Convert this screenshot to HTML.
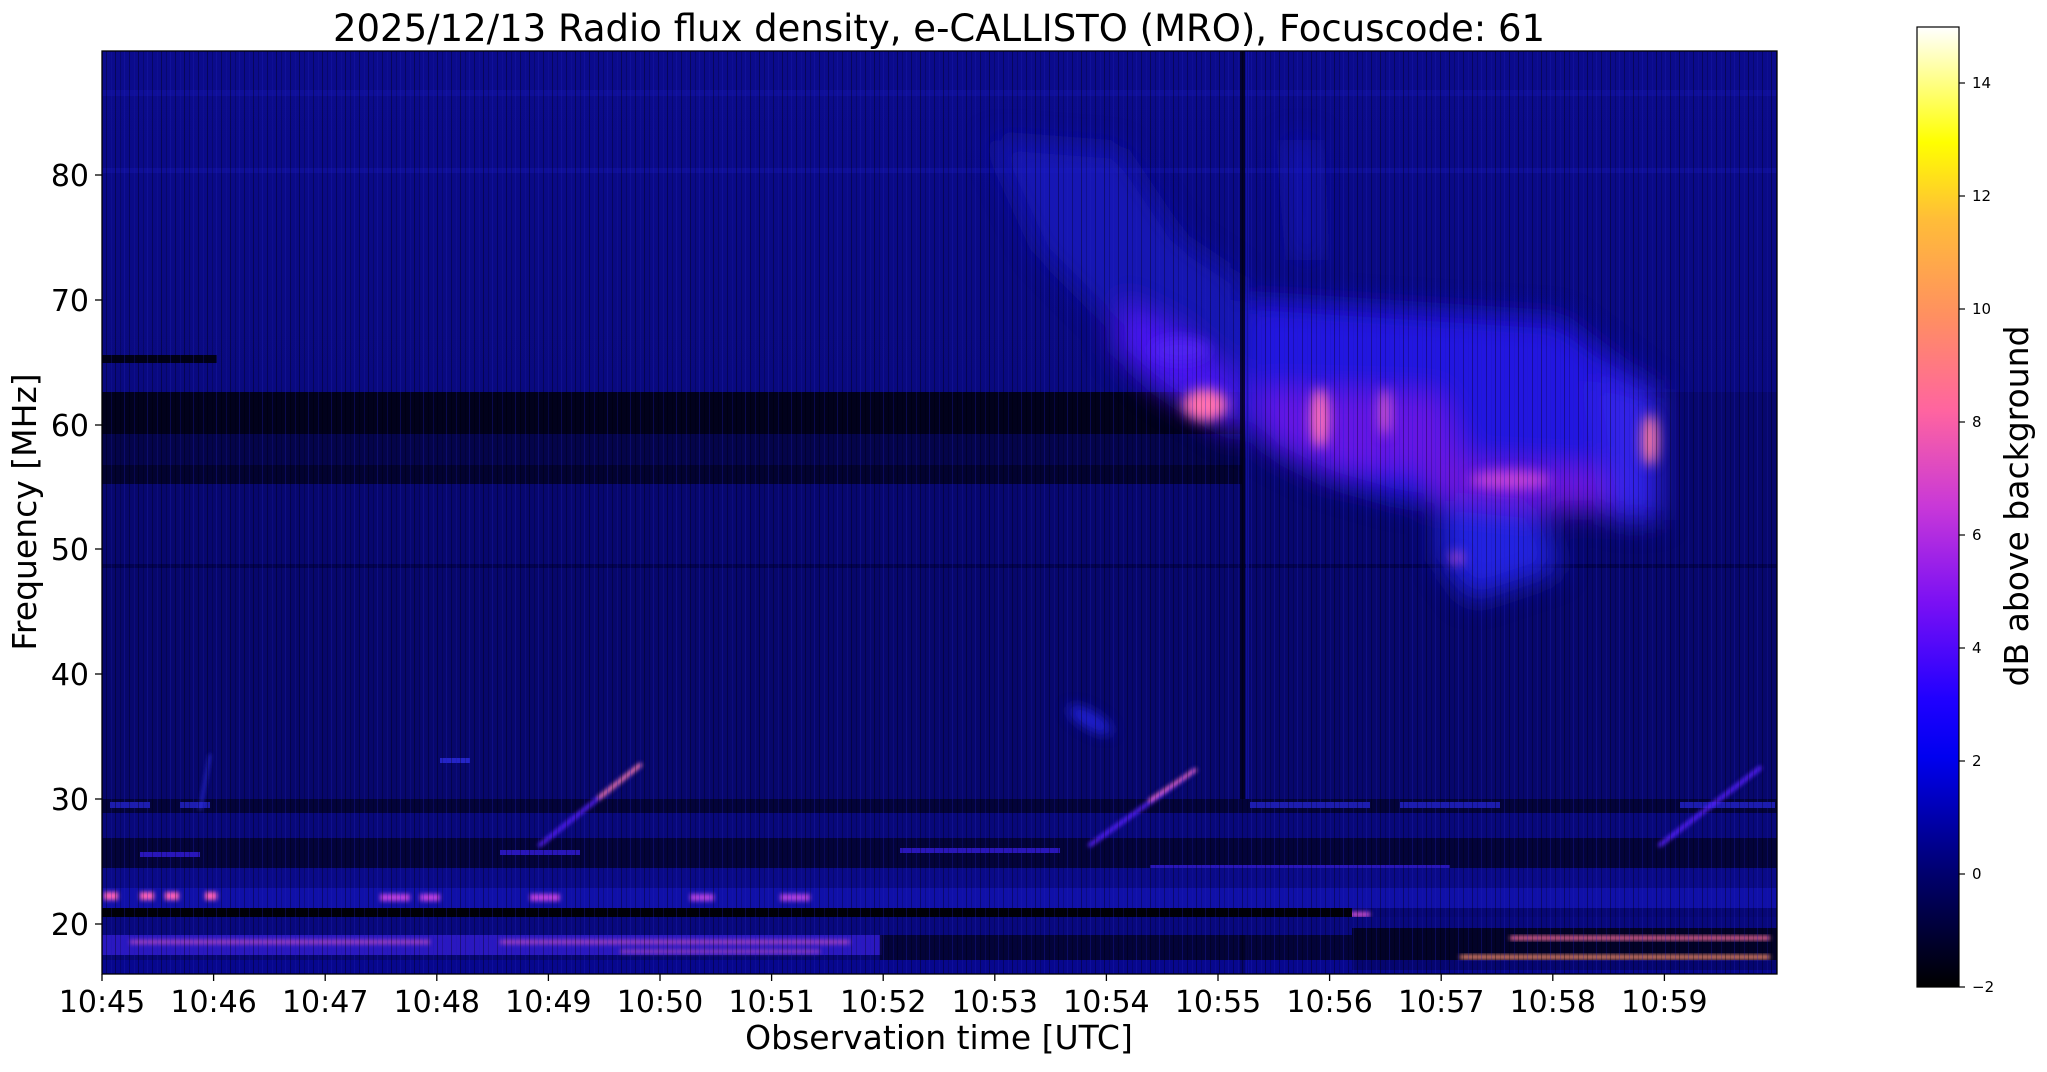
<!DOCTYPE html>
<html><head><meta charset="utf-8"><style>
body{margin:0;background:#fff;}
svg text{font-family:"DejaVu Sans","Liberation Sans",sans-serif;fill:#000;}
</style></head><body>
<svg width="2047" height="1067" viewBox="0 0 2047 1067" xmlns="http://www.w3.org/2000/svg">
<defs>
<linearGradient id="cb" x1="0" y1="1" x2="0" y2="0">
<stop offset="0" stop-color="#000000"/>
<stop offset="0.12" stop-color="#000070"/>
<stop offset="0.24" stop-color="#0000f0"/>
<stop offset="0.30" stop-color="#2000ff"/>
<stop offset="0.40" stop-color="#7a10f4"/>
<stop offset="0.50" stop-color="#c838d8"/>
<stop offset="0.60" stop-color="#ff64a0"/>
<stop offset="0.70" stop-color="#ff9060"/>
<stop offset="0.80" stop-color="#ffbd38"/>
<stop offset="0.88" stop-color="#ffff00"/>
<stop offset="1" stop-color="#ffffff"/>
</linearGradient>
<linearGradient id="bg" x1="0" y1="0" x2="0" y2="1">
<stop offset="0" stop-color="#0b0b8c"/>
<stop offset="0.4" stop-color="#09097e"/>
<stop offset="1" stop-color="#070774"/>
</linearGradient>
<pattern id="noise" width="23" height="10" patternUnits="userSpaceOnUse">
<rect x="0" y="0" width="1" height="10" fill="#000" opacity="0.35"/>
<rect x="5" y="0" width="1" height="10" fill="#000" opacity="0.2"/>
<rect x="9" y="0" width="1" height="10" fill="#2020c0" opacity="0.3"/>
<rect x="14" y="0" width="1" height="10" fill="#000" opacity="0.3"/>
<rect x="19" y="0" width="1" height="10" fill="#1a1ab0" opacity="0.25"/>
</pattern>
<filter id="b14" x="-50%" y="-50%" width="200%" height="200%"><feGaussianBlur stdDeviation="14"/></filter>
<filter id="b6" x="-50%" y="-50%" width="200%" height="200%"><feGaussianBlur stdDeviation="6"/></filter>
<filter id="b2" x="-50%" y="-50%" width="200%" height="200%"><feGaussianBlur stdDeviation="2"/></filter>
<clipPath id="pc"><rect x="102" y="51" width="1675" height="923"/></clipPath>
</defs>

<text x="939" y="41" font-size="37" text-anchor="middle">2025/12/13  Radio flux density, e-CALLISTO (MRO), Focuscode: 61</text>

<g clip-path="url(#pc)">
<rect x="102" y="51" width="1675" height="923" fill="url(#bg)"/>
<rect x="102" y="90" width="1675" height="6" fill="#1414a8" opacity="0.5"/>
<rect x="102" y="168" width="1675" height="5" fill="#1414a8" opacity="0.5"/>
<rect x="102" y="355" width="115" height="8" fill="#000018"/>
<rect x="102" y="392" width="1140" height="42" fill="#01011c"/>
<rect x="102" y="434" width="1140" height="31" fill="#04044a"/>
<rect x="102" y="465" width="1140" height="19" fill="#020230"/>
<rect x="1242" y="392" width="535" height="92" fill="#07076a" opacity="0.8"/>
<rect x="102" y="484" width="1675" height="80" fill="#07076e"/>
<rect x="102" y="564" width="1675" height="4" fill="#000040" opacity="0.7"/>
<rect x="102" y="568" width="1675" height="231" fill="#07076c"/>
<g filter="url(#b14)">
<path d="M990 140 L1120 150 L1180 240 L1240 280 L1240 380 L1200 390 L1150 360 L1090 300 L1040 250 Z" fill="#1c1cc8" opacity="0.7"/>
<path d="M1120 300 L1180 330 L1240 380 L1240 440 L1210 420 L1160 390 L1115 350 Z" fill="#4a14f0"/>
<path d="M1245 300 L1560 320 L1640 380 L1660 430 L1610 500 L1520 510 L1400 500 L1330 480 L1270 450 L1245 420 Z" fill="#2418e0"/>
<path d="M1255 390 L1440 395 L1470 470 L1330 470 L1270 440 Z" fill="#6418e4"/>
<path d="M1420 460 L1620 470 L1620 510 L1440 510 Z" fill="#6a18dc"/>
<path d="M1440 500 L1540 510 L1560 570 L1470 600 L1440 560 Z" fill="#2020e0"/>
<path d="M1285 140 L1315 140 L1320 260 L1295 260 Z" fill="#2020d0" opacity="0.6"/>
<path d="M1590 380 L1660 390 L1660 520 L1610 520 Z" fill="#3020e8"/>
</g>
<g filter="url(#b6)">
<ellipse cx="1205" cy="405" rx="22" ry="16" fill="#ff70b0"/>
<ellipse cx="1320" cy="418" rx="9" ry="30" fill="#ff70b8"/>
<ellipse cx="1385" cy="412" rx="5" ry="24" fill="#e060c8"/>
<ellipse cx="1510" cy="480" rx="40" ry="9" fill="#c040d8"/>
<ellipse cx="1650" cy="440" rx="8" ry="26" fill="#ff7aa0"/>
<ellipse cx="1457" cy="558" rx="6" ry="6" fill="#d050d0"/>
<ellipse cx="1180" cy="350" rx="30" ry="12" fill="#5020f0"/>
<ellipse cx="1090" cy="720" rx="25" ry="8" fill="#2020d8" transform="rotate(30 1090 720)"/>
</g>
<rect x="1240" y="51" width="5" height="923" fill="#000018" opacity="0.8"/>
<rect x="1246" y="51" width="3" height="923" fill="#1818c0" opacity="0.5"/>
<rect x="102" y="799" width="1675" height="14" fill="#03033a"/>
<g fill="#2828e0" opacity="0.7">
<rect x="110" y="802" width="40" height="6"/><rect x="180" y="802" width="30" height="6"/><rect x="1250" y="802" width="120" height="6"/><rect x="1400" y="802" width="100" height="6"/><rect x="1680" y="802" width="95" height="6"/>
</g>
<rect x="102" y="813" width="1675" height="25" fill="#08087a"/>
<rect x="102" y="838" width="1675" height="30" fill="#03033a"/>
<g fill="#3a20f0" opacity="0.7">
<rect x="140" y="852" width="60" height="5"/><rect x="500" y="850" width="80" height="5"/><rect x="900" y="848" width="160" height="5"/><rect x="1150" y="865" width="300" height="4"/>
</g>
<rect x="102" y="868" width="1675" height="20" fill="#0a0a88"/>
<rect x="102" y="888" width="1675" height="20" fill="#1010a8"/>
<g fill="#ff60b8" filter="url(#b2)">
<rect x="104" y="892" width="14" height="8"/><rect x="140" y="892" width="14" height="8"/><rect x="165" y="892" width="14" height="8"/><rect x="205" y="892" width="12" height="8"/>
<rect x="380" y="894" width="30" height="7" fill="#c040e0"/><rect x="420" y="894" width="20" height="7" fill="#c040e0"/><rect x="530" y="894" width="30" height="7" fill="#c040e0"/>
<rect x="690" y="894" width="24" height="7" fill="#b040e0"/><rect x="780" y="894" width="30" height="7" fill="#b040e0"/>
<rect x="1015" y="912" width="14" height="6"/><rect x="1150" y="912" width="20" height="6" fill="#e050c0"/><rect x="1340" y="912" width="30" height="5" fill="#d050d0"/>
</g>
<rect x="102" y="908" width="1250" height="9" fill="#000008"/>
<rect x="102" y="917" width="1675" height="18" fill="#08087e"/>
<rect x="102" y="935" width="780" height="20" fill="#2a18c0"/>
<g fill="#ff60c0" opacity="0.6" filter="url(#b2)">
<rect x="130" y="940" width="300" height="4"/><rect x="500" y="940" width="350" height="4"/><rect x="620" y="950" width="200" height="3"/>
</g>
<rect x="880" y="935" width="480" height="25" fill="#03032a" opacity="0.8"/>
<rect x="1352" y="928" width="425" height="42" fill="#020228"/>
<rect x="1510" y="936" width="260" height="4" fill="#ff70a0" filter="url(#b2)"/>
<rect x="1460" y="955" width="310" height="4" fill="#ff9070" filter="url(#b2)"/>
<rect x="102" y="960" width="1675" height="14" fill="#0808a0" opacity="0.6"/>
<g stroke-linecap="round" filter="url(#b2)">
<line x1="540" y1="845" x2="640" y2="765" stroke="#5a20ff" stroke-width="4"/>
<line x1="600" y1="797" x2="640" y2="765" stroke="#ff7ab0" stroke-width="4"/>
<line x1="1090" y1="845" x2="1195" y2="770" stroke="#5a20ff" stroke-width="4"/>
<line x1="1150" y1="800" x2="1195" y2="770" stroke="#ff70c0" stroke-width="3"/>
<line x1="1660" y1="845" x2="1760" y2="768" stroke="#5a20ff" stroke-width="4"/>
<line x1="200" y1="810" x2="210" y2="755" stroke="#3030f0" stroke-width="2"/>
</g>
<rect x="440" y="758" width="30" height="5" fill="#3030f0" opacity="0.7"/>
<rect x="102" y="51" width="1675" height="923" fill="url(#noise)"/>
</g>
<rect x="102" y="51" width="1675" height="923" fill="none" stroke="#000" stroke-width="1.3"/>

<g stroke="#000" stroke-width="1.3">
<line x1="95" y1="175" x2="102" y2="175"/><line x1="95" y1="300" x2="102" y2="300"/><line x1="95" y1="425" x2="102" y2="425"/><line x1="95" y1="549" x2="102" y2="549"/><line x1="95" y1="674" x2="102" y2="674"/><line x1="95" y1="799" x2="102" y2="799"/><line x1="95" y1="924" x2="102" y2="924"/>
</g>
<g font-size="30" text-anchor="end">
<text x="89" y="186">80</text><text x="89" y="311">70</text><text x="89" y="436">60</text><text x="89" y="560">50</text><text x="89" y="685">40</text><text x="89" y="810">30</text><text x="89" y="935">20</text>
</g>
<text transform="translate(36 512) rotate(-90)" font-size="33" text-anchor="middle">Frequency [MHz]</text>

<g stroke="#000" stroke-width="1.3">
<line x1="102" y1="974" x2="102" y2="981"/><line x1="213.6" y1="974" x2="213.6" y2="981"/><line x1="325.2" y1="974" x2="325.2" y2="981"/><line x1="436.8" y1="974" x2="436.8" y2="981"/><line x1="548.4" y1="974" x2="548.4" y2="981"/><line x1="660" y1="974" x2="660" y2="981"/><line x1="771.6" y1="974" x2="771.6" y2="981"/><line x1="883.2" y1="974" x2="883.2" y2="981"/><line x1="994.8" y1="974" x2="994.8" y2="981"/><line x1="1106.4" y1="974" x2="1106.4" y2="981"/><line x1="1218" y1="974" x2="1218" y2="981"/><line x1="1329.6" y1="974" x2="1329.6" y2="981"/><line x1="1441.2" y1="974" x2="1441.2" y2="981"/><line x1="1552.8" y1="974" x2="1552.8" y2="981"/><line x1="1664.4" y1="974" x2="1664.4" y2="981"/>
</g>
<g font-size="30" text-anchor="middle">
<text x="102" y="1012">10:45</text><text x="213.6" y="1012">10:46</text><text x="325.2" y="1012">10:47</text><text x="436.8" y="1012">10:48</text><text x="548.4" y="1012">10:49</text><text x="660" y="1012">10:50</text><text x="771.6" y="1012">10:51</text><text x="883.2" y="1012">10:52</text><text x="994.8" y="1012">10:53</text><text x="1106.4" y="1012">10:54</text><text x="1218" y="1012">10:55</text><text x="1329.6" y="1012">10:56</text><text x="1441.2" y="1012">10:57</text><text x="1552.8" y="1012">10:58</text><text x="1664.4" y="1012">10:59</text>
</g>
<text x="939" y="1049" font-size="33" text-anchor="middle">Observation time [UTC]</text>

<rect x="1917" y="27" width="42" height="960" fill="url(#cb)" stroke="#000" stroke-width="1.2"/>
<g stroke="#000" stroke-width="1.2">
<line x1="1959" y1="987" x2="1965" y2="987"/><line x1="1959" y1="874" x2="1965" y2="874"/><line x1="1959" y1="761" x2="1965" y2="761"/><line x1="1959" y1="648" x2="1965" y2="648"/><line x1="1959" y1="535" x2="1965" y2="535"/><line x1="1959" y1="422" x2="1965" y2="422"/><line x1="1959" y1="309" x2="1965" y2="309"/><line x1="1959" y1="196" x2="1965" y2="196"/><line x1="1959" y1="83" x2="1965" y2="83"/>
</g>
<g font-size="15">
<text x="1972" y="992">−2</text><text x="1972" y="879">0</text><text x="1972" y="766">2</text><text x="1972" y="653">4</text><text x="1972" y="540">6</text><text x="1972" y="427">8</text><text x="1972" y="314">10</text><text x="1972" y="201">12</text><text x="1972" y="88">14</text>
</g>
<text transform="translate(2028 506) rotate(-90)" font-size="33" text-anchor="middle">dB above background</text>
</svg>
</body></html>
